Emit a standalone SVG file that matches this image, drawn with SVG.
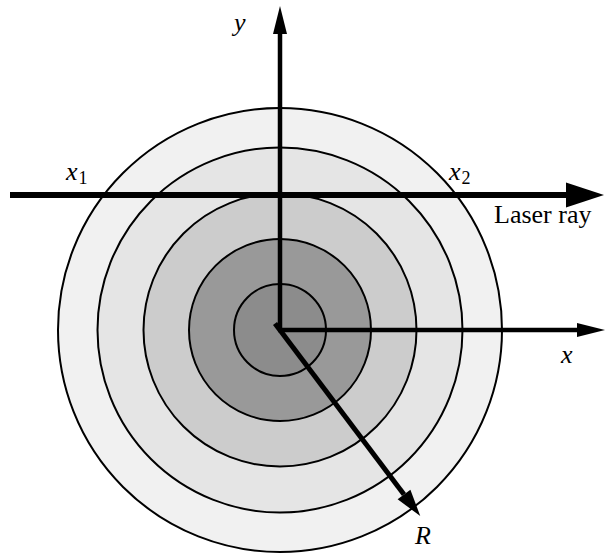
<svg xmlns="http://www.w3.org/2000/svg" width="605" height="555" viewBox="0 0 605 555">
<style>
.ring{stroke:#000;stroke-width:2}
.ax{stroke:#000;fill:none}
.m{font-family:"Liberation Serif","Times New Roman",serif;font-style:italic;font-size:26px;fill:#000}
.sub{font-family:"Liberation Serif","Times New Roman",serif;font-style:normal;font-size:18px;fill:#000}
.t{font-family:"Liberation Serif","Times New Roman",serif;font-size:26px;fill:#000}
</style>
<defs>
<marker id="big" markerUnits="userSpaceOnUse" markerWidth="40" markerHeight="26" refX="0" refY="12.5" orient="auto" overflow="visible">
<path d="M0,0 L38,12.5 L0,25 z" fill="#000"/>
</marker>
<marker id="sm" markerUnits="userSpaceOnUse" markerWidth="30" markerHeight="16" refX="0" refY="7" orient="auto" overflow="visible">
<path d="M0,0 L28,7 L0,14 z" fill="#000"/>
</marker>
<marker id="rr" markerUnits="userSpaceOnUse" markerWidth="30" markerHeight="18" refX="0" refY="8" orient="auto" overflow="visible">
<path d="M0,0 L27,8 L0,16 z" fill="#000"/>
</marker>
</defs>
<g id="rings">
<circle id="ring5" class="ring" cx="280" cy="330" r="222" fill="#f1f1f1"/>
<circle id="ring4" class="ring" cx="280" cy="330" r="182.5" fill="#e5e5e5"/>
<circle id="ring3" class="ring" cx="280" cy="330" r="136.5" fill="#cccccc"/>
<circle id="ring2" class="ring" cx="280" cy="330" r="91" fill="#999999"/>
<circle id="ring1" class="ring" cx="280" cy="330" r="46" fill="#8c8c8c"/>
</g>
<g id="connectors">
<line class="ax" x1="10" y1="195" x2="566" y2="195" stroke-width="6" marker-end="url(#big)"/>
<line class="ax" x1="280" y1="330" x2="280" y2="34" stroke-width="4.5" marker-end="url(#sm)"/>
<line class="ax" x1="278" y1="330" x2="577" y2="330" stroke-width="4.5" marker-end="url(#sm)"/>
<line class="ax" x1="275" y1="323.5" x2="404" y2="494.5" stroke-width="5" marker-end="url(#rr)"/>
</g>
<g id="labels">
<text class="m" x="234" y="31">y</text>
<text class="m" x="66" y="180">x<tspan class="sub" dx="1" dy="4">1</tspan></text>
<text class="m" x="449" y="180">x<tspan class="sub" dx="1" dy="4">2</tspan></text>
<text class="t" x="494" y="223">Laser ray</text>
<text class="m" x="561" y="363">x</text>
<text class="m" x="415" y="544">R</text>
</g>
</svg>
